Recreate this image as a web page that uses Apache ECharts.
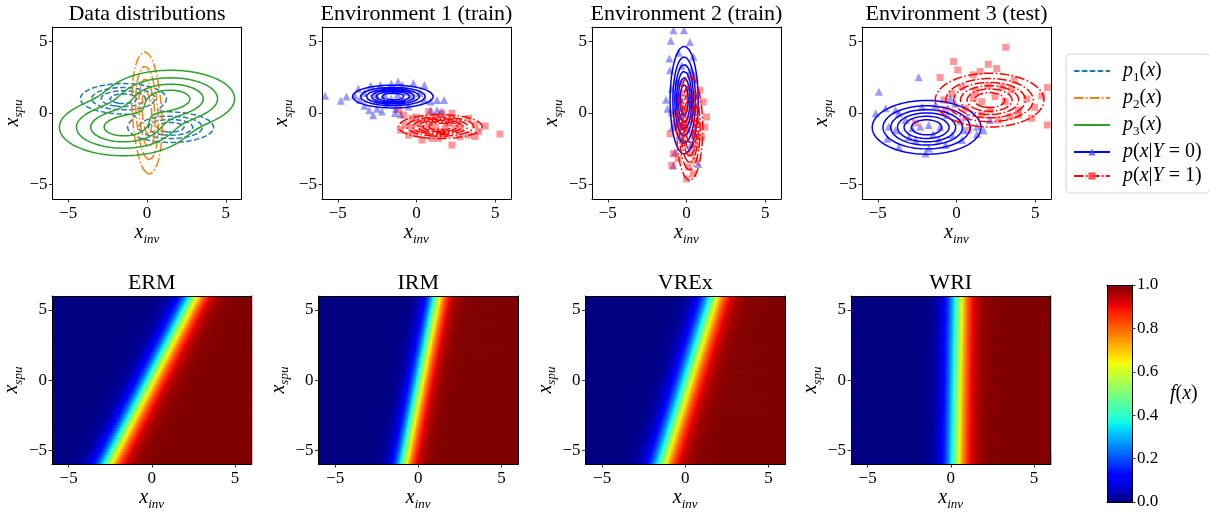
<!DOCTYPE html>
<html><head><meta charset="utf-8">
<script src="https://cdn.jsdelivr.net/npm/echarts@6/dist/echarts.min.js"></script>
<style>html,body{margin:0;padding:0;background:#fff}#c{width:1209px;height:512px}</style>
</head><body><div id="c"></div>
<script>
const FONT = "'Liberation Serif', 'DejaVu Serif', serif";

// ---------- data ----------
const axisMin = -6, axisMax = 6;
const tickValues = [-5, 0, 5];
const colorbarTicks = [0, 0.2, 0.4, 0.6, 0.8, 1.0];
const topTitles = ['Data distributions', 'Environment 1 (train)', 'Environment 2 (train)', 'Environment 3 (test)'];
const bottomTitles = ['ERM', 'IRM', 'VREx', 'WRI'];

// Gaussian components: [mean x_inv, mean x_spu, sd x_inv, sd x_spu]
const p1Components = [[-1.5, 1.0, 1.3, 0.5], [1.5, -1.0, 1.3, 0.5]];
const p2Components = [[-0.15, 1.1, 0.42, 1.65], [0.15, -1.1, 0.42, 1.65]];
const p3Components = [[-1.5, -1.0, 1.95, 0.95], [1.5, 1.0, 1.95, 0.95]];
const env1Y0Components = [[-1.5, 1.15, 1.3, 0.4]];
const env1Y1Components = [[1.5, -0.95, 1.35, 0.42]];
const env2Y0Components = [[-0.15, 0.9, 0.45, 1.9]];
const env2Y1Components = [[0.2, -1.05, 0.42, 1.85]];
const env3Y0Components = [[-1.9, -1.0, 1.75, 0.95]];
const env3Y1Components = [[2.1, 0.9, 1.75, 0.95]];
// contour levels as fractions of the peak density
const mixtureLevels = [0.11, 0.3, 0.55, 0.8];
const classLevels = [1/7, 2/7, 3/7, 4/7, 5/7, 6/7];

// samples [x_inv, x_spu]
const env1Y0Points = [[-5.8,1.2],[-4.8,0.85],[-4.45,1.15],[-3.7,1.7],[-3.9,1.2],[-3.6,0.9],[-3.3,0.5],[-3.0,0.2],[-2.75,-0.15],[-2.5,0.3],[-2.2,0.1],[-2.9,1.9],[-2.3,1.95],[-1.6,2.05],[-0.9,1.95],[-0.2,2.1],[0.5,1.95],[0.5,0.9],[0.9,0.8],[1.3,0.9],[1.75,0.9],[1.6,0.1],[1.3,0.2],[0.9,0.2],[-0.5,0.45],[-1.3,0.3],[-1.36,0.0],[-1.6,1.0],[-1.2,1.3],[-0.8,0.8],[-2.0,1.2],[-2.5,0.9],[-1.9,0.7],[-0.3,1.2],[0.2,1.4],[-1.0,-0.1],[-3.3,1.4],[-0.6,1.5],[-1.4,1.6],[-2.6,1.3],[-1.17,2.2]];
const env1Y1Points = [[-1.13,0.21],[-0.81,-0.14],[-1.02,-1.19],[-0.71,-0.84],[-0.29,-0.37],[0.34,-1.07],[0.77,0.1],[1.19,-0.26],[1.61,-0.02],[2.25,-0.02],[2.67,-0.6],[3.3,-0.37],[3.72,-0.84],[4.36,-0.91],[3.94,-1.3],[3.72,-1.65],[3.3,-1.54],[2.77,-1.65],[2.25,-2.24],[1.4,-1.77],[0.98,-1.77],[0.35,-1.89],[-0.07,-1.42],[-0.5,-1.54],[5.3,-1.47],[2.46,-1.07],[1.82,-1.07],[0.77,-0.96],[0.14,-0.73],[1.0,-0.5],[1.5,-1.3],[2.0,-0.7],[0.5,-0.4],[1.2,-1.0],[2.8,-1.0],[-0.3,-1.0],[0.0,-0.3],[1.8,-1.5],[2.2,-0.4]];
const env2Y0Points = [[-0.83,5.78],[-0.16,5.78],[-1.0,5.04],[0.22,4.96],[-1.09,3.8],[0.44,3.92],[-1.05,2.98],[-1.3,0.93],[-1.21,0.3],[-0.93,1.7],[-0.62,2.2],[0.54,2.5],[-0.73,-2.73],[-0.83,-3.66],[0.75,-3.55],[-0.41,-1.68],[0.0,-0.98],[-0.5,4.2],[-0.3,3.3],[0.3,3.0],[-0.7,0.2],[-0.4,1.0],[0.1,1.8],[-0.2,0.0],[0.4,0.6],[-0.9,-1.0],[0.3,-2.2],[-0.5,-0.6]];
const env2Y1Points = [[0.85,1.59],[1.06,0.78],[1.27,-0.28],[1.16,-0.98],[0.95,-1.68],[0.64,-2.37],[0.54,-3.31],[0.43,-4.24],[0.01,-4.6],[-0.93,-3.66],[-0.83,-2.84],[-1.04,-1.45],[-0.93,-0.05],[-0.73,-0.75],[-0.41,0.65],[-0.2,1.35],[0.33,2.52],[-0.41,2.05],[0.64,0.19],[0.12,-0.5],[0.43,-1.45],[-0.2,-2.14],[-0.52,-3.19],[0.12,-3.77],[0.64,-0.75],[-0.41,-0.28],[-0.62,1.12],[0.2,0.9],[0.0,-1.2],[0.3,-2.8],[-0.3,-1.0],[0.5,1.2],[-0.1,0.3]];
const env3Y0Points = [[-4.93,1.49],[-2.4,2.5],[-5.13,-0.02],[-4.5,0.33],[-3.87,0.21],[-0.4,1.02],[-0.07,0.66],[1.3,-0.96],[1.72,-1.2],[2.14,-0.49],[1.3,-1.47],[0.45,-1.2],[-4.4,-1.8],[-3.66,-2.35],[-1.97,-2.82],[-1.76,-2.47],[-0.7,-2.24],[0.35,-1.89],[-3.87,-1.2],[-2.82,-1.07],[-2.3,-0.96],[-1.76,-0.84],[-1.03,-0.96],[-0.6,-0.14],[-1.33,0.56],[-2.19,0.44],[-3.24,-0.49],[-4.3,-0.96],[-3.03,-1.68],[-1.13,-1.89],[-0.28,-1.54],[0.66,-0.26],[-3.66,-0.02],[-1.5,-1.5],[-2.6,-1.9]];
const env3Y1Points = [[3.13,4.59],[-0.18,3.59],[-1.04,2.47],[0.08,3.0],[2.02,3.4],[2.55,3.1],[1.07,2.66],[1.5,2.9],[3.67,2.3],[5.41,1.19],[5.77,1.77],[5.77,-0.84],[4.95,0.4],[4.46,0.98],[3.93,-0.14],[3.4,-0.26],[4.77,-0.37],[2.66,-0.49],[2.14,0.21],[0.77,-1.2],[0.24,-0.61],[-0.71,0.21],[-0.81,0.91],[-0.28,1.35],[0.35,1.82],[1.07,1.02],[1.6,0.79],[2.45,1.14],[3.09,0.79],[3.5,1.61],[2.87,1.82],[-2.6,-0.7],[3.93,0.21],[0.56,0.33],[1.6,-0.14],[1.2,1.5],[2.0,1.9]];

// learned classifiers f(x): decision boundary x_inv = slope * x_spu + offset, transition width
const modelSlope = [0.43, 0.167, 0.26, 0.015];
const modelOffset = [-0.1, 0.1, 0.12, 0.35];
const modelWidth = [0.45, 0.35, 0.45, 0.4];

// ---------- helpers ----------
function jet(v) {
  const R = [[0,0],[0.35,0],[0.66,1],[0.89,1],[1,0.5]];
  const G = [[0,0],[0.125,0],[0.375,1],[0.64,1],[0.91,0],[1,0]];
  const B = [[0,0.5],[0.11,1],[0.34,1],[0.65,0],[1,0]];
  const it = (s) => { for (let i = 1; i < s.length; i++) { if (v <= s[i][0]) { const a = s[i-1], b = s[i]; return a[1] + (b[1]-a[1])*(v-a[0])/(b[0]-a[0]); } } return s[s.length-1][1]; };
  v = Math.max(0, Math.min(1, v));
  return 'rgb(' + Math.round(it(R)*255) + ',' + Math.round(it(G)*255) + ',' + Math.round(it(B)*255) + ')';
}

function densityContours(comps, levels) {
  const n = 121, lo = axisMin, step = (axisMax - axisMin) / (n - 1);
  const f = []; let mx = 0;
  for (let j = 0; j < n; j++) {
    const row = []; const y = lo + j*step;
    for (let i = 0; i < n; i++) {
      const x = lo + i*step; let s = 0;
      for (const c of comps) s += Math.exp(-0.5*(((x-c[0])/c[2])**2 + ((y-c[1])/c[3])**2)) / (c[2]*c[3]);
      row.push(s); if (s > mx) mx = s;
    }
    f.push(row);
  }
  const out = [];
  for (const rel of levels) {
    const L = rel*mx; const pts = {}, adj = {}, segs = [];
    const ep = (key, x1, y1, v1, x2, y2, v2) => { if (!(key in pts)) { const t = (L-v1)/(v2-v1); pts[key] = [x1+(x2-x1)*t, y1+(y2-y1)*t]; } return key; };
    for (let j = 0; j < n-1; j++) for (let i = 0; i < n-1; i++) {
      const a = f[j][i], b = f[j][i+1], c = f[j+1][i+1], d = f[j+1][i];
      const x0 = lo+i*step, x1 = x0+step, y0 = lo+j*step, y1 = y0+step;
      const ins = [a>=L, b>=L, c>=L, d>=L];
      const e = [];
      if (ins[0] !== ins[1]) e.push(ep('h'+i+'_'+j, x0,y0,a, x1,y0,b));
      if (ins[1] !== ins[2]) e.push(ep('v'+(i+1)+'_'+j, x1,y0,b, x1,y1,c));
      if (ins[2] !== ins[3]) e.push(ep('h'+i+'_'+(j+1), x0,y1,d, x1,y1,c));
      if (ins[3] !== ins[0]) e.push(ep('v'+i+'_'+j, x0,y0,a, x0,y1,d));
      if (e.length === 2) segs.push([e[0], e[1]]);
      else if (e.length === 4) {
        const center = (a+b+c+d)/4 >= L;
        if (center === ins[0]) { segs.push([e[0], e[1]]); segs.push([e[2], e[3]]); }
        else { segs.push([e[3], e[0]]); segs.push([e[1], e[2]]); }
      }
    }
    segs.forEach((s, k) => { for (const key of s) (adj[key] = adj[key] || []).push(k); });
    const used = new Array(segs.length).fill(false);
    for (let k = 0; k < segs.length; k++) {
      if (used[k]) continue; used[k] = true;
      const chain = [segs[k][0], segs[k][1]];
      for (const dir of [1, -1]) {
        let cur = dir === 1 ? chain[chain.length-1] : chain[0];
        while (true) {
          const nx = (adj[cur] || []).find(q => !used[q]);
          if (nx === undefined) break;
          used[nx] = true; const s = segs[nx]; cur = s[0] === cur ? s[1] : s[0];
          if (dir === 1) chain.push(cur); else chain.unshift(cur);
        }
      }
      chain.forEach(key => out.push(pts[key].slice()));
      out.push(['-', '-']);
    }
  }
  return out;
}

function heatData(m) {
  const nx = 100, ny = 64, out = [];
  const dx = (axisMax-axisMin)/nx, dy = (axisMax-axisMin)/ny;
  for (let j = 0; j < ny; j++) for (let i = 0; i < nx; i++) {
    const x = axisMin + (i+0.5)*dx, y = axisMin + (j+0.5)*dy;
    const z = (x - (modelSlope[m]*y + modelOffset[m])) / modelWidth[m];
    out.push([x, y, 1/(1+Math.exp(-z)), dx, dy]);
  }
  return out;
}

const fmt = v => (v < 0 ? '\u2212' + (-v) : String(v));
const rich = {
  it: {fontFamily: FONT, fontStyle: 'italic', fontSize: 20, color: '#000', verticalAlign: 'top', lineHeight: 20},
  sub: {fontFamily: FONT, fontStyle: 'italic', fontSize: 13, color: '#000', verticalAlign: 'top', lineHeight: 13, padding: [10, 0, 0, 0]},
  n: {fontFamily: FONT, fontSize: 20, color: '#000', verticalAlign: 'top', lineHeight: 20},
  subn: {fontFamily: FONT, fontSize: 13, color: '#000', verticalAlign: 'top', lineHeight: 13, padding: [10, 0, 0, 0]},
  g: {width: 8}
};

// ---------- layout ----------
const panels = [];
const topLefts = [52.5, 322, 592, 862];
const botLefts = [52, 318.5, 585.5, 851];
topLefts.forEach(l => panels.push({left: l, top: 27, width: 189, height: 172}));
botLefts.forEach(l => panels.push({left: l, top: 296, width: 199.5, height: 173}));

const grid = [], xAxis = [], yAxis = [], series = [], title = [];
const baseAxis = (gi, pos) => ({
  type: 'value', gridIndex: gi, min: axisMin, max: axisMax, position: pos, z: 10,
  splitLine: {show: false},
  axisLine: {show: true, onZero: false, lineStyle: {color: '#000', width: 1}},
  axisTick: {show: false}, axisLabel: {show: false}
});
panels.forEach((p, gi) => {
  grid.push({left: p.left, top: p.top, width: p.width, height: p.height, containLabel: false});
  const xa = baseAxis(gi, 'bottom');
  xa.axisTick = {show: true, inside: false, length: 3.5, lineStyle: {color: '#000', width: 0.8}, customValues: tickValues};
  xa.axisLabel = {show: true, customValues: tickValues, formatter: fmt, color: '#000', fontFamily: FONT, fontSize: 17, margin: 6};
  xa.name = '{it|x}{sub|inv}'; xa.nameLocation = 'middle'; xa.nameGap = 19; xa.nameTextStyle = {rich};
  const ya = baseAxis(gi, 'left');
  ya.axisTick = {show: true, inside: false, length: 3.5, lineStyle: {color: '#000', width: 0.8}, customValues: tickValues};
  ya.axisLabel = {show: true, customValues: tickValues, formatter: fmt, color: '#000', fontFamily: FONT, fontSize: 17, margin: 5};
  ya.name = '{it|x}{sub|spu}'; ya.nameLocation = 'middle'; ya.nameGap = 28; ya.nameTextStyle = {rich};
  xAxis.push(xa); yAxis.push(ya);
});
// frame top/right lines
panels.forEach((p, gi) => { xAxis.push(baseAxis(gi, 'top')); yAxis.push(baseAxis(gi, 'right')); });

// colorbar
const cbGrid = grid.length;
grid.push({left: 1107, top: 285, width: 25, height: 217});
const cbX = xAxis.length, cbY = yAxis.length;
xAxis.push({type: 'value', gridIndex: cbGrid, min: 0, max: 1, position: 'bottom', z: 10, axisLine: {show: true, onZero: false, lineStyle: {color: '#000'}}, axisTick: {show: false}, axisLabel: {show: false}, splitLine: {show: false}});
yAxis.push({type: 'value', gridIndex: cbGrid, min: 0, max: 1, interval: 0.2, position: 'right', z: 10,
  splitLine: {show: false},
  axisLine: {show: true, onZero: false, lineStyle: {color: '#000', width: 1}},
  axisTick: {show: true, length: 3.5, lineStyle: {color: '#000', width: 0.8}},
  axisLabel: {color: '#000', fontFamily: FONT, fontSize: 17, margin: 5, formatter: v => v.toFixed(1)},
  name: '{it|f}{n|(}{it|x}{n|)}', nameLocation: 'middle', nameRotate: 0, nameGap: 38, nameTextStyle: {rich}});
xAxis.push({type: 'value', gridIndex: cbGrid, min: 0, max: 1, position: 'top', z: 10, axisLine: {show: true, onZero: false, lineStyle: {color: '#000'}}, axisTick: {show: false}, axisLabel: {show: false}, splitLine: {show: false}});
yAxis.push({type: 'value', gridIndex: cbGrid, min: 0, max: 1, position: 'left', z: 10, axisLine: {show: true, onZero: false, lineStyle: {color: '#000'}}, axisTick: {show: false}, axisLabel: {show: false}, splitLine: {show: false}});

// titles
const titleStyle = {fontFamily: FONT, fontSize: 22, fontWeight: 'normal', color: '#000'};
topTitles.forEach((t, i) => title.push({text: t, left: panels[i].left + panels[i].width/2, top: 3, textAlign: 'center', textStyle: titleStyle, padding: 0}));
bottomTitles.forEach((t, i) => title.push({text: t, left: panels[4+i].left + panels[4+i].width/2, top: 272, textAlign: 'center', textStyle: titleStyle, padding: 0}));

// ---------- series ----------
const DASH = [5.5, 2.4], DASHDOT = [9.6, 2.4, 1.5, 2.4];
const contour = (name, gi, comps, levels, color, type, symbol, fill) => ({
  type: 'line', name, xAxisIndex: gi, yAxisIndex: gi, data: densityContours(comps, levels),
  showSymbol: false, symbol: symbol || 'none', symbolSize: 9, connectNulls: false, animation: false, silent: true, z: 4,
  lineStyle: {color, width: 1.5, type}, itemStyle: {color: fill || color}
});
const scatter = (name, gi, pts, symbol, color, size) => ({
  type: 'scatter', name, xAxisIndex: gi, yAxisIndex: gi, data: pts, symbol, symbolSize: size,
  itemStyle: {color}, animation: false, silent: true, z: 3
});

series.push(contour('p1', 0, p1Components, mixtureLevels, '#1f77b4', DASH));
series.push(contour('p2', 0, p2Components, mixtureLevels, '#ff7f0e', DASHDOT));
series.push(contour('p3', 0, p3Components, mixtureLevels, '#2ca02c', 'solid'));

const envs = [
  [env1Y0Points, env1Y1Points, env1Y0Components, env1Y1Components],
  [env2Y0Points, env2Y1Points, env2Y0Components, env2Y1Components],
  [env3Y0Points, env3Y1Points, env3Y0Components, env3Y1Components]
];
envs.forEach((e, k) => {
  const gi = k + 1;
  series.push(scatter('Y0 samples', gi, e[0], 'triangle', 'rgba(0,0,255,0.5)', 8));
  series.push(contour('Y0', gi, e[2], classLevels, '#0000ff', 'solid', 'triangle', 'rgba(70,70,255,0.8)'));
  series.push(scatter('Y1 samples', gi, e[1], 'rect', 'rgba(255,0,0,0.5)', 7));
  series.push(contour('Y1', gi, e[3], classLevels, '#ff0000', DASHDOT, 'rect', 'rgba(255,70,70,0.9)'));
});

const cellRender = (params, api) => {
  const x = api.value(0), y = api.value(1), dx = api.value(3), dy = api.value(4);
  const p0 = api.coord([x - dx/2, y + dy/2]);
  const p1 = api.coord([x + dx/2, y - dy/2]);
  return {type: 'rect', shape: {x: p0[0], y: p0[1], width: p1[0]-p0[0]+0.7, height: p1[1]-p0[1]+0.7},
    style: {fill: jet(api.value(2))}};
};
bottomTitles.forEach((t, m) => {
  series.push({type: 'custom', name: t, xAxisIndex: 4+m, yAxisIndex: 4+m, data: heatData(m), renderItem: cellRender,
    encode: {x: 0, y: 1}, clip: true, animation: false, silent: true, z: 2});
});
// colorbar
const cbData = [];
for (let i = 0; i < 200; i++) cbData.push([0.5, (i+0.5)/200, (i+0.5)/200, 1, 1/200]);
series.push({type: 'custom', name: 'colorbar', xAxisIndex: cbX, yAxisIndex: cbY, data: cbData, renderItem: cellRender,
  encode: {x: 0, y: 1}, clip: true, animation: false, silent: true, z: 2});

const legendLabels = {
  p1: '{g|}{it|p}{subn|1}{n|(}{it|x}{n|)}',
  p2: '{g|}{it|p}{subn|2}{n|(}{it|x}{n|)}',
  p3: '{g|}{it|p}{subn|3}{n|(}{it|x}{n|)}',
  Y0: '{g|}{it|p}{n|(}{it|x}{n||}{it|Y}{n| = 0)}',
  Y1: '{g|}{it|p}{n|(}{it|x}{n||}{it|Y}{n| = 1)}'
};
const hideSymbol = {opacity: 0};

const option = {
  backgroundColor: '#fff', animation: false,
  title, grid, xAxis, yAxis, series,
  legend: {
    data: [{name: 'p1', itemStyle: hideSymbol}, {name: 'p2', itemStyle: hideSymbol}, {name: 'p3', itemStyle: hideSymbol}, {name: 'Y0'}, {name: 'Y1'}],
    orient: 'vertical', left: 1066, top: 54,
    itemWidth: 36, itemHeight: 9, itemGap: 4, padding: [7, 8, 7, 7],
    borderColor: '#d6d6d6', borderWidth: 1, borderRadius: 4, backgroundColor: '#fff',
    selectedMode: false, formatter: n => legendLabels[n],
    textStyle: {rich, fontFamily: FONT, fontSize: 18, color: '#000'}
  }
};
const chart = echarts.init(document.getElementById('c'), null, {renderer: 'canvas'});
chart.setOption(option);
</script></body></html>
